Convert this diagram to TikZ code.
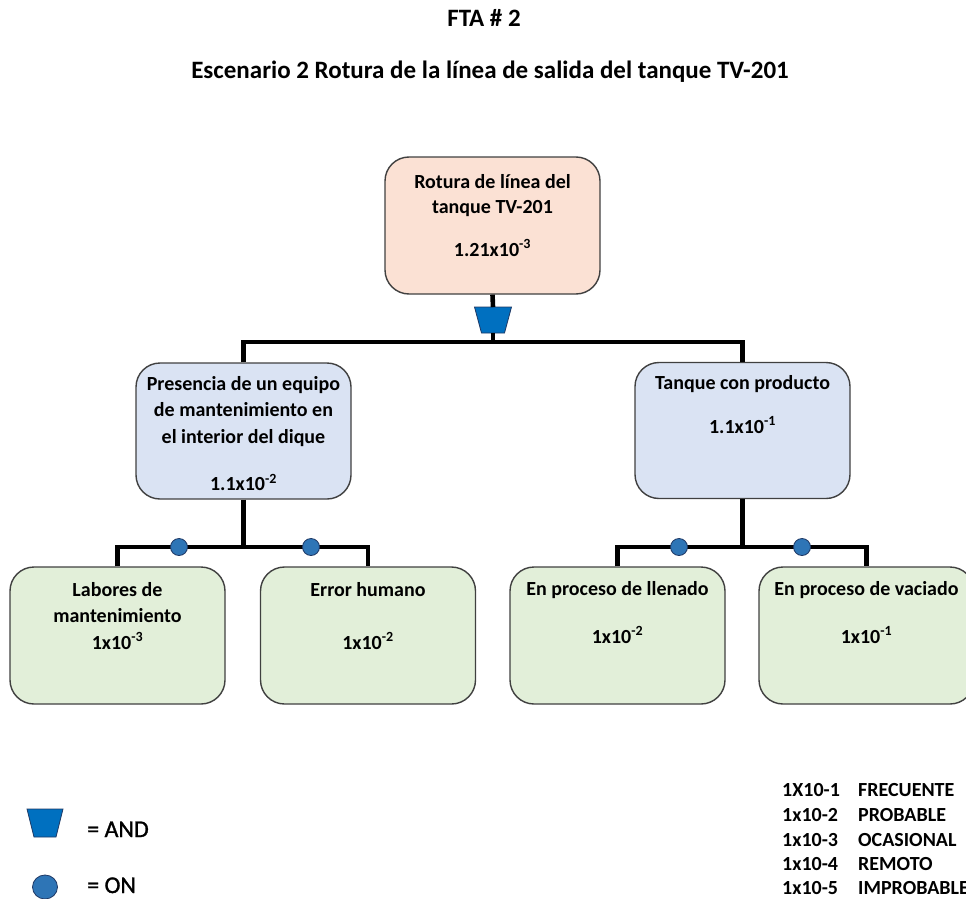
\documentclass[tikz,border=0pt]{standalone}
\usepackage{fontspec}
\setmainfont{Carlito}
\usetikzlibrary{shapes.geometric}
\definecolor{peach}{RGB}{251,225,212}
\definecolor{lblue}{RGB}{218,227,243}
\definecolor{lgreen}{RGB}{226,239,217}
\definecolor{edgegray}{RGB}{64,64,64}
\definecolor{gateblue}{RGB}{0,112,192}
\definecolor{gateline}{RGB}{31,56,100}
\definecolor{dotblue}{RGB}{46,117,182}
\begin{document}
\begin{tikzpicture}[x=1pt,y=-1pt,
  evbox/.style={draw=edgegray, line width=1.4pt, rounded corners=24pt,
    minimum width=215pt, minimum height=136pt, inner sep=0pt},
  txt/.style={anchor=north, inner sep=0pt, align=center, font=\bfseries},
  wire/.style={line width=4.6pt, black, line join=miter},
  andgate/.style={fill=gateblue, draw=gateline, line width=0.8pt, line join=miter},
  ongate/.style={ellipse, fill=dotblue, draw=gateline, line width=0.8pt, inner sep=0pt},
  legtxt/.style={anchor=base west, inner sep=0pt, font=\bfseries\fontsize{20}{25}\selectfont},
  titletxt/.style={anchor=base, inner sep=0pt, font=\bfseries\fontsize{25}{30}\selectfont}
]
\useasboundingbox (0,0) rectangle (966,899);

% titles
\node[titletxt] (t1) at (484,26.5) {FTA \# 2};
\node[titletxt] (t2) at (490,78.5) {Escenario 2 Rotura de la línea de salida del tanque TV-201};

% boxes
\node[evbox, fill=peach, minimum height=137pt] (top) at (492.5,225.5) {};
\node[evbox, fill=lblue] (ml) at (243.5,431) {};
\node[evbox, fill=lblue] (mr) at (742.5,430.5) {};
\node[evbox, fill=lgreen, minimum height=137pt] (b1) at (117.5,635.5) {};
\node[evbox, fill=lgreen, minimum height=137pt] (b2) at (368,635.5) {};
\node[evbox, fill=lgreen, minimum height=137pt] (b3) at (617.5,635.5) {};
\node[evbox, fill=lgreen, minimum height=137pt] (b4) at (866.5,635.5) {};

% texts
\node[txt, font=\bfseries\fontsize{20}{25}\selectfont] (ttop) at (492.5,173)
  {\rule{0pt}{15pt}Rotura de línea del\\tanque TV-201\\[18pt]1.21x10\textsuperscript{-3}};
\node[txt, font=\bfseries\fontsize{20}{26.5}\selectfont] (tml) at (243.5,375)
  {\rule{0pt}{15pt}Presencia de un equipo\\de mantenimiento en\\el interior del dique\\[21pt]1.1x10\textsuperscript{-2}};
\node[txt, font=\bfseries\fontsize{20}{25}\selectfont] (tmr) at (742.5,374)
  {\rule{0pt}{15pt}Tanque con producto\\[19pt]1.1x10\textsuperscript{-1}};
\node[txt, font=\bfseries\fontsize{20}{26.5}\selectfont] (tb1) at (117.5,581)
  {\rule{0pt}{15pt}Labores de\\mantenimiento\\1x10\textsuperscript{-3}};
\node[txt, font=\bfseries\fontsize{20}{25}\selectfont] (tb2) at (368,581)
  {\rule{0pt}{15pt}Error humano\\[28pt]1x10\textsuperscript{-2}};
\node[txt, font=\bfseries\fontsize{20}{25}\selectfont] (tb3) at (617.5,580)
  {\rule{0pt}{15pt}En proceso de llenado\\[23pt]1x10\textsuperscript{-2}};
\node[txt, font=\bfseries\fontsize{20}{25}\selectfont] (tb4) at (866.5,580)
  {\rule{0pt}{15pt}En proceso de vaciado\\[23pt]1x10\textsuperscript{-1}};

% AND gate and top connectors
\coordinate (gateN) at (493,307);
\coordinate (gateS) at (493,333);
\draw[andgate] (474.5,307) -- (511.5,307) -- (504.5,333) -- (481.5,333) -- cycle;
\coordinate (bar) at (493,342);
\draw[wire] (top.south) -- (gateN);
\draw[wire] (gateS) -- (bar);
\draw[wire] (ml.north) -- (ml.north |- bar) -- (mr.north |- bar) -- (mr.north);

% lower left
\coordinate (lbar) at (243.5,547);
\draw[wire] (ml.south) -- (lbar);
\draw[wire] (b1.north) -- (b1.north |- lbar) -- (b2.north |- lbar) -- (b2.north);
\node[ongate, minimum width=17pt, minimum height=17pt] (o1) at (179,547) {};
\node[ongate, minimum width=17pt, minimum height=17pt] (o2) at (311,547) {};

% lower right
\coordinate (rbar) at (742.5,547);
\draw[wire] (mr.south) -- (rbar);
\draw[wire] (b3.north) -- (b3.north |- rbar) -- (b4.north |- rbar) -- (b4.north);
\node[ongate, minimum width=17pt, minimum height=17pt] (o3) at (679,547) {};
\node[ongate, minimum width=17pt, minimum height=17pt] (o4) at (802,547) {};

% legend left
\draw[andgate] (27,809) -- (63,809) -- (56,837) -- (34,837) -- cycle;
\node[ongate, minimum width=25pt, minimum height=24pt] (lon) at (45,887) {};
\node[legtxt, font=\fontsize{24}{28}\selectfont\addfontfeatures{FakeBold=1.2}] (land) at (87,837) {= AND};
\node[legtxt, font=\fontsize{24}{28}\selectfont\addfontfeatures{FakeBold=1.2}] (lonl) at (87,893) {= ON};

% legend right
\node[legtxt] (r1a) at (782,796) {1X10-1};
\node[legtxt] (r1b) at (858,796) {FRECUENTE};
\node[legtxt] (r2a) at (782,821) {1x10-2};
\node[legtxt] (r2b) at (858,821) {PROBABLE};
\node[legtxt] (r3a) at (782,846) {1x10-3};
\node[legtxt] (r3b) at (858,846) {OCASIONAL};
\node[legtxt] (r4a) at (782,870) {1x10-4};
\node[legtxt] (r4b) at (858,870) {REMOTO};
\node[legtxt] (r5a) at (782,894) {1x10-5};
\node[legtxt] (r5b) at (858,894) {IMPROBABLE};
\end{tikzpicture}
\end{document}
